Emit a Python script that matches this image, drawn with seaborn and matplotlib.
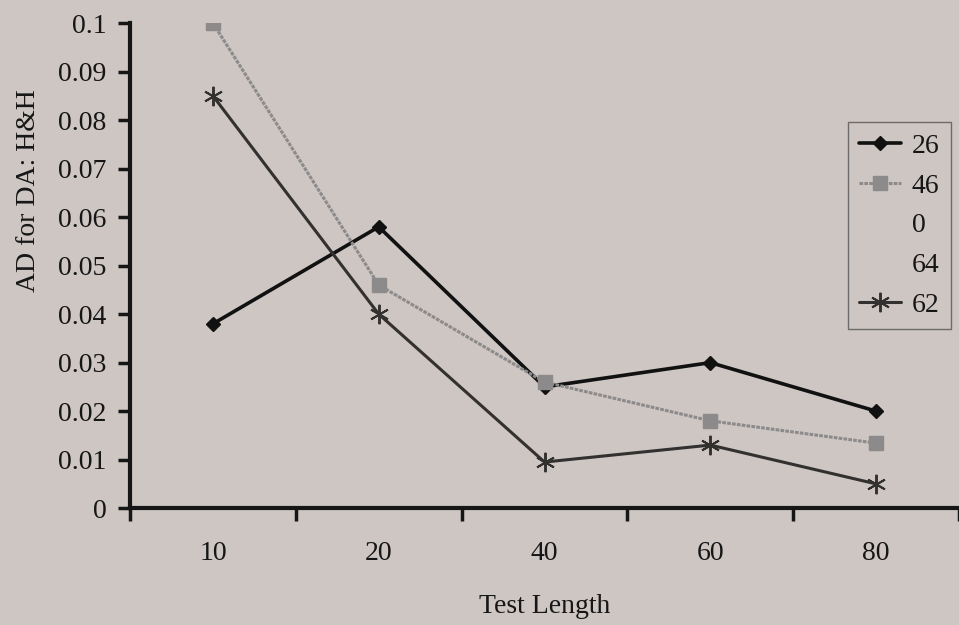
import numpy as np
import pandas as pd
import matplotlib
matplotlib.use("Agg")
import matplotlib.pyplot as plt
import seaborn as sns
from matplotlib.lines import Line2D

# Data
test_lengths = ["10", "20", "40", "60", "80"]
series_names = ["26", "46", "0", "64", "62"]
ad_26 = [0.038, 0.058, 0.025, 0.030, 0.020]
ad_46 = [0.100, 0.046, 0.026, 0.018, 0.0134]
ad_0 = [np.nan] * 5
ad_64 = [np.nan] * 5
ad_62 = [0.085, 0.040, 0.0095, 0.013, 0.005]

values = {"26": ad_26, "46": ad_46, "0": ad_0, "64": ad_64, "62": ad_62}
rows = []
for name in series_names:
    for i, (lab, v) in enumerate(zip(test_lengths, values[name])):
        rows.append({"pos": i, "length": lab, "series": name, "ad": v})
df = pd.DataFrame(rows)

bg = "#cdc6c3"
ink = "#161616"
fs = 20

sns.set_theme(style="white")
plt.rcParams["font.family"] = ["Liberation Serif", "DejaVu Serif"]

fig = plt.figure(figsize=(9.59, 6.25), dpi=100, facecolor=bg)
ax = fig.add_axes([0.1356, 0.187, 0.8644, 0.776], facecolor=bg)

styles = {
    "26": dict(color="#111111", lw=2.6, marker="D", ms=7),
    "46": dict(color="#8c8a8a", lw=2.2, marker="s", ms=10, ls=(0, (1.2, 0.4))),
    "62": dict(color="#333030", lw=2.2, marker=(6, 2, 0), ms=14, mew=1.4),
}

for name in ["26", "46", "62"]:
    st = styles[name]
    sub = df[df["series"] == name]
    sns.lineplot(data=sub, x="pos", y="ad", ax=ax, color=st["color"],
                 lw=st["lw"], ls=st.get("ls", "-"), marker=st["marker"],
                 markersize=st["ms"], markeredgecolor=st["color"],
                 markeredgewidth=st.get("mew", 1.0), legend=False)

ax.set_xlim(-0.5, 4.5)
ax.set_ylim(0, 0.1)

# y axis
ax.set_yticks(np.arange(0, 0.1001, 0.01))
ax.set_yticklabels(["0", "0.01", "0.02", "0.03", "0.04", "0.05", "0.06",
                    "0.07", "0.08", "0.09", "0.1"])
ax.tick_params(axis="y", direction="out", length=9, width=2.5, color=ink,
               labelsize=fs, labelcolor=ink, pad=8, left=True)

# x axis: tick marks between categories, labels at centres
ax.set_xticks(np.arange(-0.5, 4.51, 1.0))
ax.set_xticklabels([])
ax.set_xticks(np.arange(5), minor=True)
ax.set_xticklabels(test_lengths, minor=True)
ax.tick_params(axis="x", which="major", direction="out", length=9, width=2.5,
               color=ink, bottom=True)
ax.tick_params(axis="x", which="minor", length=0, labelsize=fs,
               labelcolor=ink, pad=24)

for side in ["top", "right"]:
    ax.spines[side].set_visible(False)
for side in ["left", "bottom"]:
    ax.spines[side].set_color(ink)
    ax.spines[side].set_linewidth(3)

ax.set_xlabel("Test Length", fontsize=fs, color=ink, labelpad=20)
ax.set_ylabel("AD for DA: H&H", fontsize=fs, color=ink)
ax.yaxis.set_label_coords(-0.108, 0.655)

# Legend
handles = [
    Line2D([], [], color=styles["26"]["color"], lw=2.6, marker="D", ms=7),
    Line2D([], [], color=styles["46"]["color"], lw=2.2, marker="s", ms=10,
           ls=(0, (1.2, 0.4))),
    Line2D([], [], color=bg, lw=0),
    Line2D([], [], color=bg, lw=0),
    Line2D([], [], color=styles["62"]["color"], lw=2.2, marker=(6, 2, 0),
           ms=14, mew=1.4),
]
leg = ax.legend(handles, series_names, loc="upper right",
                bbox_to_anchor=(0.99, 0.796), frameon=True, fontsize=fs,
                handlelength=1.5, handletextpad=0.4, labelspacing=0.52,
                borderpad=0.4, borderaxespad=0.0, fancybox=False)
leg.get_frame().set_facecolor(bg)
leg.get_frame().set_edgecolor("#555555")
leg.get_frame().set_linewidth(1.0)
for t in leg.get_texts():
    t.set_color(ink)

fig.savefig("out.png", dpi=100, facecolor=bg)
